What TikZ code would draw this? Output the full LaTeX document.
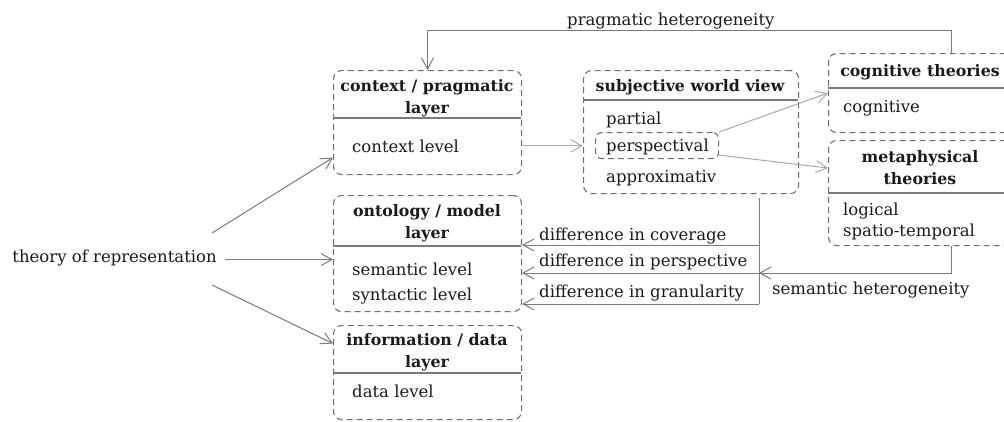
\documentclass[tikz,border=0pt]{standalone}
\usepackage{fontspec}
\setmainfont{DejaVu Serif}
\usetikzlibrary{arrows.meta,calc}
\definecolor{frame}{HTML}{6E6E6E}
\definecolor{wire}{HTML}{7A7A7A}
\definecolor{faint}{HTML}{A8A8A8}
\definecolor{ink}{HTML}{1A1A1A}
\begin{document}
\begin{tikzpicture}[x=1pt,y=-1pt,
  layerbox/.style={draw=frame, line width=1.1pt, dash pattern=on 6pt off 4pt,
    rounded corners=8pt, inner sep=0pt, anchor=north west},
  divider/.style={draw=wire, line width=1.1pt},
  title/.style={font=\fontsize{15.8}{22}\selectfont\bfseries, text=ink, align=center, inner sep=0pt},
  entry/.style={font=\fontsize{16.5}{22}\selectfont, text=ink, inner sep=0pt, anchor=base west},
  link/.style={draw=wire, line width=1pt, -{Straight Barb[length=11pt,width=12pt]}},
  faintlink/.style={link, draw=faint},
  plain/.style={draw=wire, line width=1pt},
]
\useasboundingbox (0,0) rectangle (1004,421);

% layer boxes
\node[layerbox, minimum width=188pt, minimum height=104pt] (ctx)  at (333,70)  {};
\node[layerbox, minimum width=188pt, minimum height=116pt] (onto) at (333,195) {};
\node[layerbox, minimum width=188pt, minimum height=94pt]  (info) at (333,325) {};
\node[layerbox, minimum width=215pt, minimum height=123pt] (subj) at (583,70)  {};
\node[layerbox, minimum width=185pt, minimum height=79pt]  (cog)  at (828,53)  {};
\node[layerbox, minimum width=185pt, minimum height=105pt] (meta) at (828,140) {};
\node[layerbox, rounded corners=6pt, minimum width=123pt, minimum height=26pt] (persp) at (595,132) {};

% header dividers
\draw[divider] (333,118) -- (521,118);
\draw[divider] (333,246) -- (521,246);
\draw[divider] (333,373) -- (521,373);
\draw[divider] (583,100) -- (798,100);
\draw[divider] (828,88) -- (1013,88);
\draw[divider] (828,193) -- (1013,193);

% headers
\node[title] (ctxT)  at (427,98)  {context / pragmatic\\layer};
\node[title] (ontoT) at (427,223) {ontology / model\\layer};
\node[title] (infoT) at (427,352) {information / data\\layer};
\node[title] (subjT) at (690,87)  {subjective world view};
\node[title] (cogT)  at (920,72)  {cognitive theories};
\node[title] (metaT) at (920,168) {metaphysical\\theories};

% entries
\node[entry] (ctxL)  at (352,152) {context level};
\node[entry] (semL)  at (352,275) {semantic level};
\node[entry] (synL)  at (352,300) {syntactic level};
\node[entry] (datL)  at (352,397) {data level};
\node[entry] (parL)  at (606,124) {partial};
\node[entry] (perL)  at (606,151) {perspectival};
\node[entry] (appL)  at (606,182) {approximativ};
\node[entry] (cogL)  at (843,112) {cognitive};
\node[entry] (logL)  at (843,215) {logical};
\node[entry] (spaL)  at (843,236) {spatio-temporal};

% source
\node[entry, anchor=base east] (theory) at (217,262) {theory of representation};

% edge labels
\node[entry] (pragLbl) at (567,25)  {pragmatic heterogeneity};
\node[entry] (covLbl)  at (539,240) {difference in coverage};
\node[entry] (perLbl)  at (539,266) {difference in perspective};
\node[entry] (graLbl)  at (539,297) {difference in granularity};
\node[entry] (semLbl)  at (772,294) {semantic heterogeneity};

% junction points of the heterogeneity bracket
\coordinate (jTop) at (759,198);
\coordinate (jCov) at (759,245);
\coordinate (jPer) at (759,273);
\coordinate (jGra) at (759,304);
\coordinate (tUp)  at (212,233);
\coordinate (tDn)  at (212,285);

% connectors from the theory of representation
\draw[link] ([xshift=8pt,yshift=-2pt]theory.east) -- ([yshift=-2pt]theory.east -| onto.west);
\draw[link] (tUp) -- ([yshift=-35pt]ctx.west);
\draw[link] (tDn) -- ([yshift=29pt]info.west);

% context to world view, and on to the theories
\draw[faintlink] (ctx.east |- ctxL) -- (subj.west |- ctxL);
\draw[faintlink] (persp.north east) -- (cog.west);
\draw[faintlink] ([yshift=4pt]persp.south east) -- ([yshift=25pt]meta.west);

% pragmatic heterogeneity
\draw[link] ([xshift=30pt]cog.north) |- ($(ctx.north)+(0,40pt)$) -- (ctx.north);

% semantic heterogeneity
\draw[plain] (jTop) -- (jGra);
\draw[link] ([xshift=30pt]meta.south) |- (jPer);
\draw[link] (jCov) -- (jCov -| onto.east);
\draw[link] (jPer) -- (jPer -| onto.east);
\draw[link] (jGra) -- (jGra -| onto.east);
\end{tikzpicture}
\end{document}
